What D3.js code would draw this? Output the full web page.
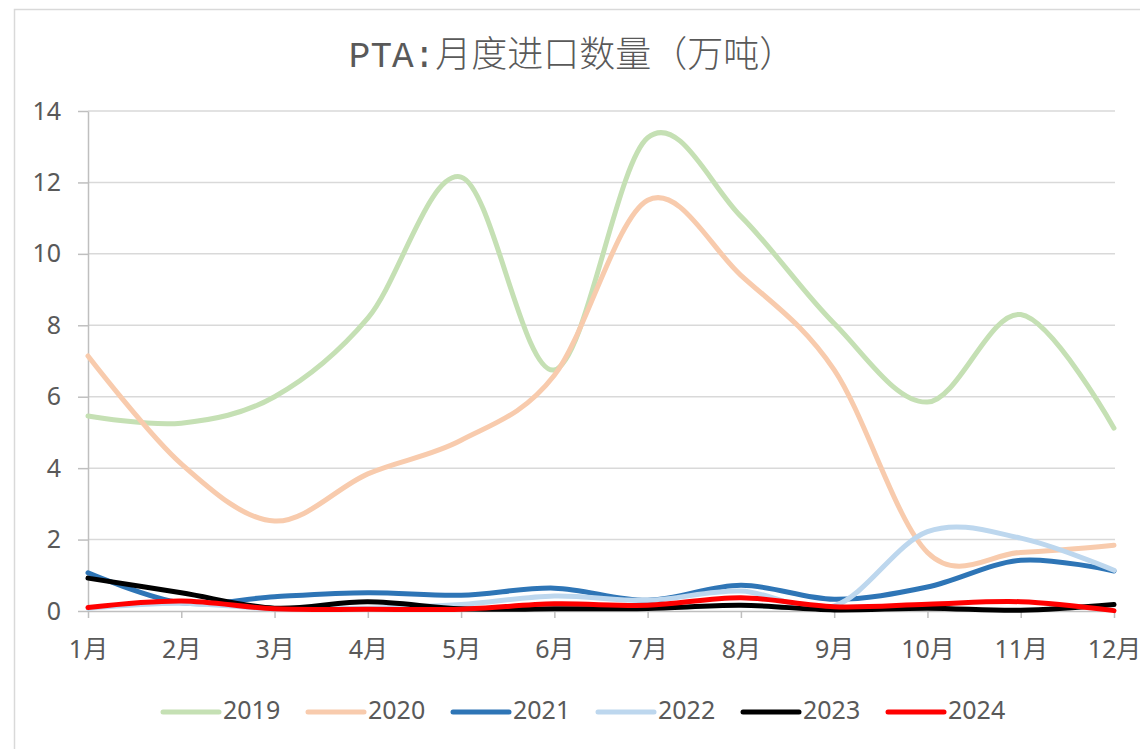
<!DOCTYPE html>
<meta charset="utf-8">

<head>
  <script src="https://d3js.org/d3.v7.min.js"></script>
  <style>
    html,
    body {
      margin: 0;
      padding: 0;
      background: #fff;
    }

    text {
      font-family: "Noto Sans", "Noto Sans CJK SC", sans-serif;
      fill: #595959;
    }
  </style>
</head>

<body>
  <svg id="chart"></svg>
</body>
<script>
  const months = ["1月", "2月", "3月", "4月", "5月", "6月", "7月", "8月", "9月", "10月", "11月", "12月"]
  const years = ["2019", "2020", "2021", "2022", "2023", "2024"]
  const colors = ["#c5e0b4", "#f8cbad", "#2e75b6", "#bdd7ee", "#000000", "#ff0000"]
  const yTicks = [0, 2, 4, 6, 8, 10, 12, 14]

  const v2019 = [5.46, 5.26, 6.0, 8.2, 12.15, 6.75, 13.25, 11.05, 8.05, 5.85, 8.3, 5.12]
  const v2020 = [7.14, 4.12, 2.52, 3.84, 4.78, 6.6, 11.5, 9.4, 6.75, 1.64, 1.64, 1.84]
  const v2021 = [1.07, 0.23, 0.4, 0.51, 0.44, 0.64, 0.3, 0.72, 0.33, 0.67, 1.42, 1.12]
  const v2022 = [0.08, 0.22, 0.06, 0.08, 0.18, 0.42, 0.3, 0.56, 0.14, 2.22, 2.04, 1.14]
  const v2023 = [0.92, 0.51, 0.08, 0.26, 0.06, 0.06, 0.07, 0.16, 0.03, 0.08, 0.02, 0.18]
  const v2024 = [0.1, 0.28, 0.06, 0.05, 0.05, 0.2, 0.16, 0.37, 0.12, 0.19, 0.26, 0.01]
  const series = [v2019, v2020, v2021, v2022, v2023, v2024]

  const width = 1140,
    height = 749

  const svg = d3.select("#chart")
    .attr("width", width)
    .attr("height", height)

  // outer chart frame (only left/top visible in the picture)
  svg.append("rect")
    .attr("x", 14.5)
    .attr("y", 9.5)
    .attr("width", 1200)
    .attr("height", 800)
    .attr("fill", "none")
    .attr("stroke", "#d9d9d9")
    .attr("stroke-width", 1.5)

  svg.append("text")
    .attr("x", 572)
    .attr("y", 57)
    .attr("text-anchor", "middle")
    .attr("dominant-baseline", "middle")
    .style("font-size", "36px")
    .style("font-family", "'Noto Sans CJK SC', sans-serif")
    .style("font-weight", 300)
    .call(t => {
      t.append("tspan").style("font-family", "'Liberation Mono', monospace").text("PTA:")
      t.append("tspan").text("月度进口数量（万吨）")
    })

  const x = d3.scalePoint()
    .domain(months)
    .range([88, 1114])

  const y = d3.scaleLinear()
    .domain([0, 14])
    .range([611, 111])

  // gridlines
  svg.append("g")
    .selectAll("line")
    .data(yTicks.filter(d => d > 0))
    .join("line")
    .attr("x1", 88)
    .attr("x2", 1115)
    .attr("y1", d => y(d))
    .attr("y2", d => y(d))
    .attr("stroke", "#d9d9d9")
    .attr("stroke-width", 1.5)

  const yAxis = svg.append("g")
    .attr("transform", "translate(88,0)")
    .call(d3.axisLeft(y).tickValues(yTicks).tickSize(10).tickPadding(17).tickSizeOuter(0))
  yAxis.selectAll("text").style("font-size", "25px")

  const xAxis = svg.append("g")
    .attr("transform", "translate(0,611)")
    .call(d3.axisBottom(x).tickSize(7).tickPadding(22).tickSizeOuter(0))
  xAxis.selectAll("text").style("font-size", "25px")

  svg.selectAll(".domain, .tick line")
    .attr("stroke", "#bfbfbf")
    .attr("stroke-width", 1.5)
  svg.selectAll(".tick text").attr("fill", "#595959")

  const line = d3.line()
    .x((d, i) => x(months[i]))
    .y(d => y(d))
    .curve(d3.curveCatmullRom.alpha(0))

  svg.append("g")
    .selectAll("path")
    .data(series)
    .join("path")
    .attr("d", line)
    .attr("fill", "none")
    .attr("stroke", (d, i) => colors[i])
    .attr("stroke-width", 5)
    .attr("stroke-linecap", "round")
    .attr("stroke-linejoin", "round")

  const legend = svg.append("g")
    .selectAll("g")
    .data(years)
    .join("g")
    .attr("transform", (d, i) => "translate(" + (163 + i * 145) + ",712)")

  legend.append("line")
    .attr("x1", 0)
    .attr("x2", 56)
    .attr("stroke", (d, i) => colors[i])
    .attr("stroke-width", 5)
    .attr("stroke-linecap", "round")

  legend.append("text")
    .attr("x", 60)
    .attr("dominant-baseline", "middle")
    .style("font-size", "25px")
    .text(d => d)
</script>
